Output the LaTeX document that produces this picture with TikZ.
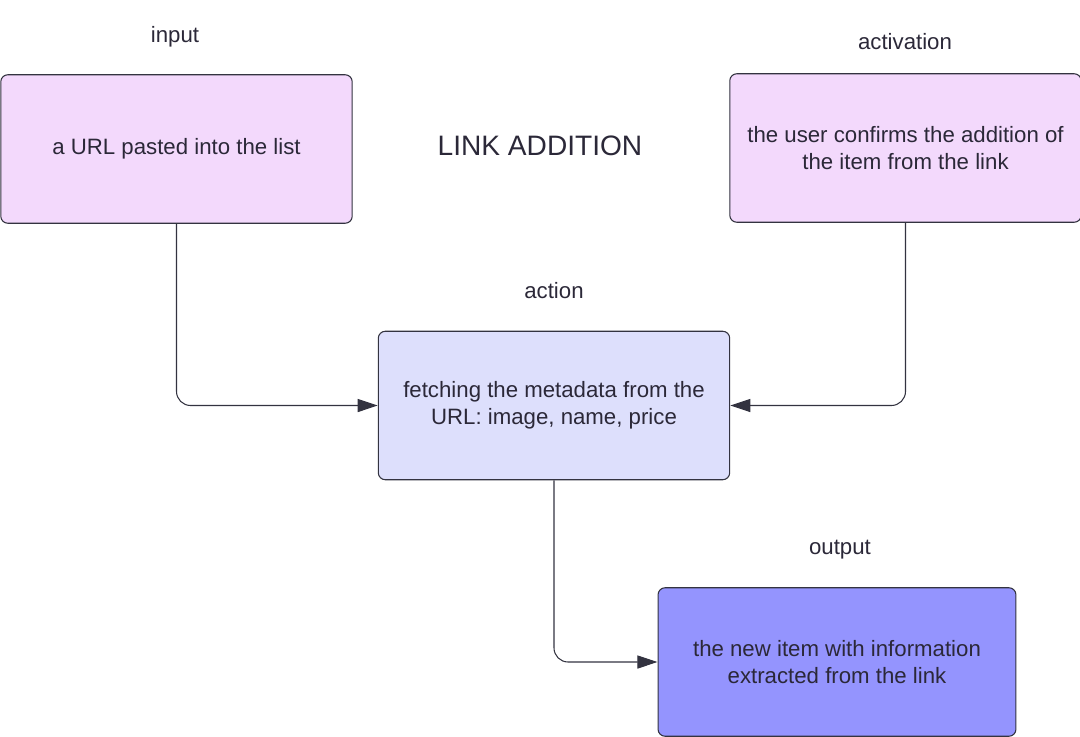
\documentclass[tikz,border=0pt]{standalone}
\usepackage{fontspec}
\setmainfont{Liberation Sans}
\usetikzlibrary{arrows.meta,positioning}
\definecolor{pinkfill}{HTML}{F3D9FC}
\definecolor{lilacfill}{HTML}{DDDFFC}
\definecolor{bluefill}{HTML}{9494FE}
\definecolor{edgegray}{HTML}{333340}
\definecolor{inkgray}{HTML}{2B2838}
\newcommand{\boxtext}{\fontsize{12.65}{15.4}\selectfont}

\begin{document}
\begin{tikzpicture}[x=0.02cm, y=-0.02cm, every node/.style={text=inkgray, font=\boxtext},
 stepbox/.style={draw=edgegray, line width=0.6pt, rounded corners=4pt, align=center, inner sep=0pt, minimum width=7.03cm, minimum height=2.97cm},
 conn/.style={draw=edgegray, line width=0.6pt, rounded corners=8pt, -{Triangle[length=11.5pt, width=7.5pt]}}]

 \useasboundingbox (0,0) rectangle (1080,737);

 \node[stepbox, fill=pinkfill] (inp) at (176.5,149) {a URL pasted into the list};
 \node[stepbox, fill=pinkfill] (actv) at (905.5,148) {the user confirms the addition of\\the item from the link};
 \node[stepbox, fill=lilacfill] (act) at (554,405.5) {fetching the metadata from the\\URL: image, name, price};
 \node[stepbox, fill=bluefill, minimum width=7.16cm] (out) at (837,662) {the new item with information\\extracted from the link};

 \node (inplabel) at (175,37) {input};
 \node (actvlabel) at (905,42) {activation};
 \node (actlabel) at (554,291) {action};
 \node (outlabel) at (840,550) {output};
 \node[font=\fontsize{16}{19}\selectfont] (title) at (540,146) {LINK ADDITION};

 \draw[conn] (inp.south) |- (act.west);
 \draw[conn] (actv.south) |- (act.east);
 \draw[conn] (act.south) |- (out.west);
\end{tikzpicture}
\end{document}
